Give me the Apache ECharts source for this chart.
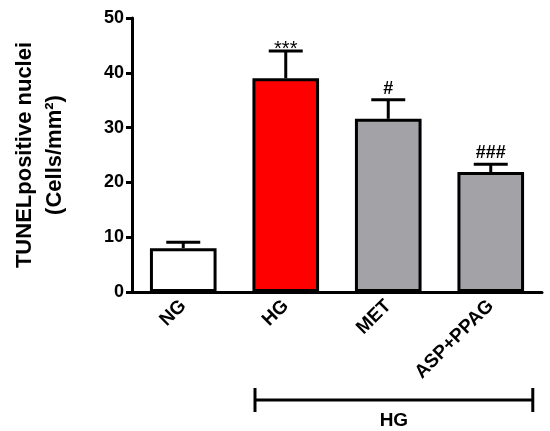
<!DOCTYPE html>
<html>
<head>
<meta charset="utf-8">
<script src="https://cdn.jsdelivr.net/npm/echarts@6/dist/echarts.min.js"></script>
<style>html,body{margin:0;padding:0;background:#fff}#main{width:550px;height:431px}</style>
</head>
<body>
<div id="main"></div>
<script>
// groups and values
var groups = ['NG', 'HG', 'MET', 'ASP+PPAG'];
var means = [8, 39, 31.6, 21.9];
var errs = [1.1, 5, 3.5, 1.4];
var marks = ['', '***', '#', '###'];
var barColors = ['#ffffff', '#ff0000', '#a3a3a7', '#a3a3a7'];
var yMin = 0, yMax = 50, yStep = 10;
var bracketFrom = 1, bracketTo = 3, bracketLabel = 'HG';

var FONT = 'Liberation Sans, Arial, sans-serif';

var barData = [];
var errData = [];
for (var i = 0; i < groups.length; i++) {
    barData.push({ value: means[i], itemStyle: { color: barColors[i] } });
    errData.push([i, means[i], errs[i]]);
}

function renderErr(params, api) {
    var x = api.value(0), m = api.value(1), e = api.value(2);
    var base = api.coord([x, m]);
    var top = api.coord([x, m + e]);
    var cap = 17;
    var txt = marks[params.dataIndex];
    var isStar = txt.indexOf('*') >= 0;
    return {
        type: 'group',
        children: [
            { type: 'line', shape: { x1: base[0], y1: base[1], x2: top[0], y2: top[1] }, style: { stroke: '#000', lineWidth: 3 } },
            { type: 'line', shape: { x1: top[0] - cap, y1: top[1], x2: top[0] + cap, y2: top[1] }, style: { stroke: '#000', lineWidth: 3 } },
            { type: 'text', x: top[0], y: top[1] + (isStar ? 9 : -2),
              style: { text: txt, textAlign: 'center', textVerticalAlign: 'bottom',
                       font: (isStar ? '20px ' : 'bold 18px ') + FONT, fill: '#000' } }
        ]
    };
}

function renderBracket(params, api) {
    var band = api.size([1, 0])[0];
    var a = api.coord([api.value(0), 0]);
    var b = api.coord([api.value(1), 0]);
    var x1 = a[0] - band * 0.3;
    var x2 = b[0] + band * 0.41;
    var y = a[1] + 108;
    return {
        type: 'group',
        children: [
            { type: 'line', shape: { x1: x1, y1: y, x2: x2, y2: y }, style: { stroke: '#000', lineWidth: 3 } },
            { type: 'line', shape: { x1: x1, y1: y - 12, x2: x1, y2: y + 12 }, style: { stroke: '#000', lineWidth: 3 } },
            { type: 'line', shape: { x1: x2, y1: y - 12, x2: x2, y2: y + 12 }, style: { stroke: '#000', lineWidth: 3 } },
            { type: 'text', x: (x1 + x2) / 2, y: y + 11,
              style: { text: bracketLabel, textAlign: 'center', textVerticalAlign: 'top',
                       font: 'bold 19px ' + FONT, fill: '#000' } }
        ]
    };
}

var myChart = echarts.init(document.getElementById('main'));
var option = {
    animation: false,
    backgroundColor: '#fff',
    grid: { left: 132, right: 8, top: 18, bottom: 139 },
    xAxis: {
        type: 'category',
        data: groups,
        axisLine: { lineStyle: { color: '#000', width: 3 } },
        axisTick: { alignWithLabel: true, length: 6, lineStyle: { color: '#000', width: 3 } },
        axisLabel: { rotate: 45, margin: 11, color: '#000', fontWeight: 'bold', fontSize: 19, fontFamily: FONT }
    },
    yAxis: {
        type: 'value',
        min: yMin, max: yMax, interval: yStep,
        name: 'TUNELpositive nuclei\n(Cells/mm²)',
        nameLocation: 'middle',
        nameGap: 62,
        nameTextStyle: { color: '#000', fontWeight: 'bold', fontSize: 22, lineHeight: 30, fontFamily: FONT },
        splitLine: { show: false },
        axisLine: { show: true, lineStyle: { color: '#000', width: 3 } },
        axisTick: { show: true, length: 6, lineStyle: { color: '#000', width: 3 } },
        axisLabel: { margin: 8, color: '#000', fontWeight: 'bold', fontSize: 18, fontFamily: FONT }
    },
    series: [
        {
            type: 'bar',
            data: barData,
            barWidth: '65%',
            itemStyle: { borderColor: '#000', borderWidth: 3 },
            z: 2
        },
        {
            type: 'custom',
            data: errData,
            renderItem: renderErr,
            encode: { x: 0, y: 1 },
            clip: false,
            z: 3
        },
        {
            type: 'custom',
            data: [[bracketFrom, bracketTo]],
            renderItem: renderBracket,
            encode: { x: [0, 1] },
            clip: false,
            z: 3
        }
    ]
};
myChart.setOption(option);
</script>
</body>
</html>
